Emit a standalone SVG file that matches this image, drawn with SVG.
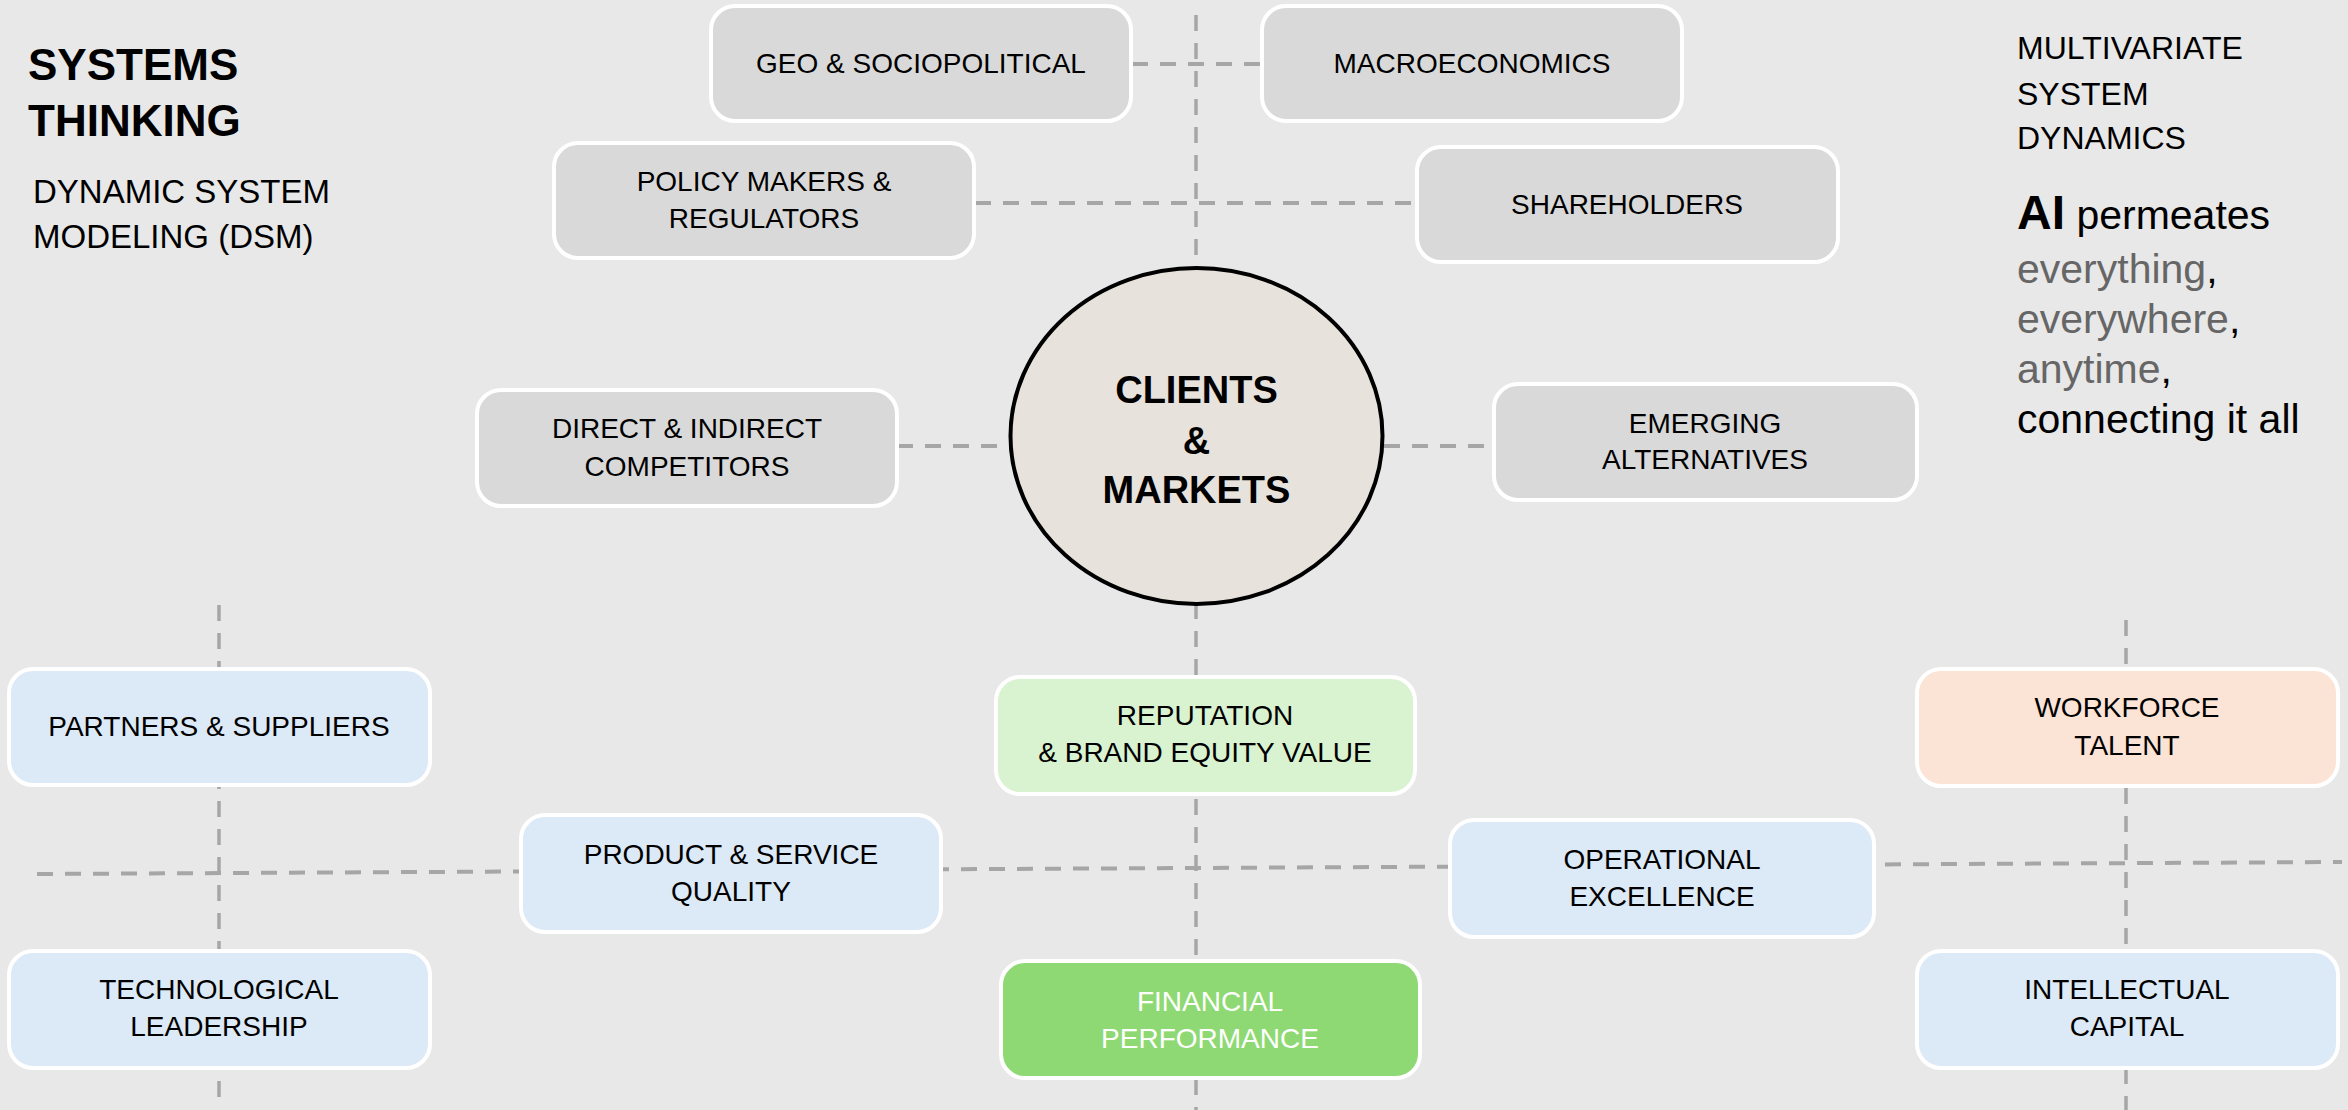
<svg xmlns="http://www.w3.org/2000/svg" width="2348" height="1110" viewBox="0 0 2348 1110">
<style>
.bg{fill:#E8E8E8}
.node rect{stroke:#FFFFFF;stroke-width:4}
.grey rect{fill:#D9D9D9}
.blue rect{fill:#DCE9F6}
.lgreen rect{fill:#D9F2D0}
.green rect{fill:#8ED973}
.peach rect{fill:#FBE3D6}
.node text{font-family:"Liberation Sans",Arial,sans-serif;font-size:28px;fill:#000;text-anchor:middle}
.green text{fill:#FFFFFF}
.dh{stroke:#A6A6A6;stroke-width:4;stroke-dasharray:16 12;fill:none}
.dv{stroke:#A6A6A6;stroke-width:3.5;stroke-dasharray:16 12;fill:none}
.t{font-family:"Liberation Sans",Arial,sans-serif;fill:#000}
.g{fill:#666666}
</style>
<rect class="bg" x="0" y="0" width="2348" height="1110"/>

<g id="connectors">
  <line class="dv" x1="1196" y1="15" x2="1196" y2="1110"/>
  <line class="dv" x1="219" y1="605" x2="219" y2="1100"/>
  <line class="dv" x1="2126" y1="620" x2="2126" y2="1110"/>
  <line class="dh" x1="1132" y1="64" x2="1260" y2="64"/>
  <line class="dh" x1="975" y1="203" x2="1416" y2="203"/>
  <line class="dh" x1="897" y1="446" x2="1009" y2="446"/>
  <line class="dh" x1="1384" y1="446" x2="1493" y2="446"/>
  <line class="dh" x1="37" y1="874" x2="2342" y2="862"/>
</g>

<g id="title-left">
  <text class="t" x="28" y="80" font-size="44" font-weight="bold">SYSTEMS</text>
  <text class="t" x="28" y="136" font-size="44" font-weight="bold">THINKING</text>
  <text class="t" x="33" y="203" font-size="33">DYNAMIC SYSTEM</text>
  <text class="t" x="33" y="248" font-size="33">MODELING (DSM)</text>
</g>

<g id="title-right">
  <text class="t" x="2017" y="59" font-size="32">MULTIVARIATE</text>
  <text class="t" x="2017" y="105" font-size="32">SYSTEM</text>
  <text class="t" x="2017" y="149" font-size="32">DYNAMICS</text>
  <text class="t" x="2017" y="229" font-size="41"><tspan font-size="48" font-weight="bold">AI</tspan> permeates</text>
  <text class="t" x="2017" y="283" font-size="41"><tspan class="g">everything</tspan>,</text>
  <text class="t" x="2017" y="333" font-size="41"><tspan class="g">everywhere</tspan>,</text>
  <text class="t" x="2017" y="383" font-size="41"><tspan class="g">anytime</tspan>,</text>
  <text class="t" x="2017" y="433" font-size="41">connecting it all</text>
</g>

<g id="geo" class="node grey">
  <rect x="711" y="6" width="420" height="115" rx="24"/>
  <text x="921" y="73">GEO &amp; SOCIOPOLITICAL</text>
</g>
<g id="macro" class="node grey">
  <rect x="1262" y="6" width="420" height="115" rx="24"/>
  <text x="1472" y="73">MACROECONOMICS</text>
</g>
<g id="policy" class="node grey">
  <rect x="554" y="143" width="420" height="115" rx="24"/>
  <text x="764" y="191">POLICY MAKERS &amp;</text>
  <text x="764" y="228">REGULATORS</text>
</g>
<g id="shareholders" class="node grey">
  <rect x="1417" y="147" width="421" height="115" rx="24"/>
  <text x="1627" y="214">SHAREHOLDERS</text>
</g>
<g id="competitors" class="node grey">
  <rect x="477" y="390" width="420" height="116" rx="24"/>
  <text x="687" y="438">DIRECT &amp; INDIRECT</text>
  <text x="687" y="476">COMPETITORS</text>
</g>
<g id="emerging" class="node grey">
  <rect x="1494" y="384" width="423" height="116" rx="24"/>
  <text x="1705" y="433">EMERGING</text>
  <text x="1705" y="469">ALTERNATIVES</text>
</g>

<g id="clients">
  <ellipse cx="1196.5" cy="436" rx="186" ry="168" fill="#E8E2DC" stroke="#000" stroke-width="4"/>
  <text class="t" x="1196.5" y="403" font-size="38" font-weight="bold" text-anchor="middle">CLIENTS</text>
  <text class="t" x="1196.5" y="454" font-size="38" font-weight="bold" text-anchor="middle">&amp;</text>
  <text class="t" x="1196.5" y="503" font-size="38" font-weight="bold" text-anchor="middle">MARKETS</text>
</g>

<g id="partners" class="node blue">
  <rect x="9" y="669" width="421" height="116" rx="24"/>
  <text x="219" y="736">PARTNERS &amp; SUPPLIERS</text>
</g>
<g id="technological" class="node blue">
  <rect x="9" y="951" width="421" height="117" rx="24"/>
  <text x="219" y="999">TECHNOLOGICAL</text>
  <text x="219" y="1036">LEADERSHIP</text>
</g>
<g id="product" class="node blue">
  <rect x="521" y="815" width="420" height="117" rx="24"/>
  <text x="731" y="864">PRODUCT &amp; SERVICE</text>
  <text x="731" y="901">QUALITY</text>
</g>
<g id="reputation" class="node lgreen">
  <rect x="996" y="677" width="419" height="117" rx="24"/>
  <text x="1205" y="725">REPUTATION</text>
  <text x="1205" y="762">&amp; BRAND EQUITY VALUE</text>
</g>
<g id="financial" class="node green">
  <rect x="1001" y="961" width="419" height="117" rx="24"/>
  <text x="1210" y="1011">FINANCIAL</text>
  <text x="1210" y="1048">PERFORMANCE</text>
</g>
<g id="operational" class="node blue">
  <rect x="1450" y="820" width="424" height="117" rx="24"/>
  <text x="1662" y="869">OPERATIONAL</text>
  <text x="1662" y="906">EXCELLENCE</text>
</g>
<g id="workforce" class="node peach">
  <rect x="1917" y="669" width="421" height="117" rx="24"/>
  <text x="2127" y="717">WORKFORCE</text>
  <text x="2127" y="755">TALENT</text>
</g>
<g id="intellectual" class="node blue">
  <rect x="1917" y="951" width="421" height="117" rx="24"/>
  <text x="2127" y="999">INTELLECTUAL</text>
  <text x="2127" y="1036">CAPITAL</text>
</g>
</svg>
